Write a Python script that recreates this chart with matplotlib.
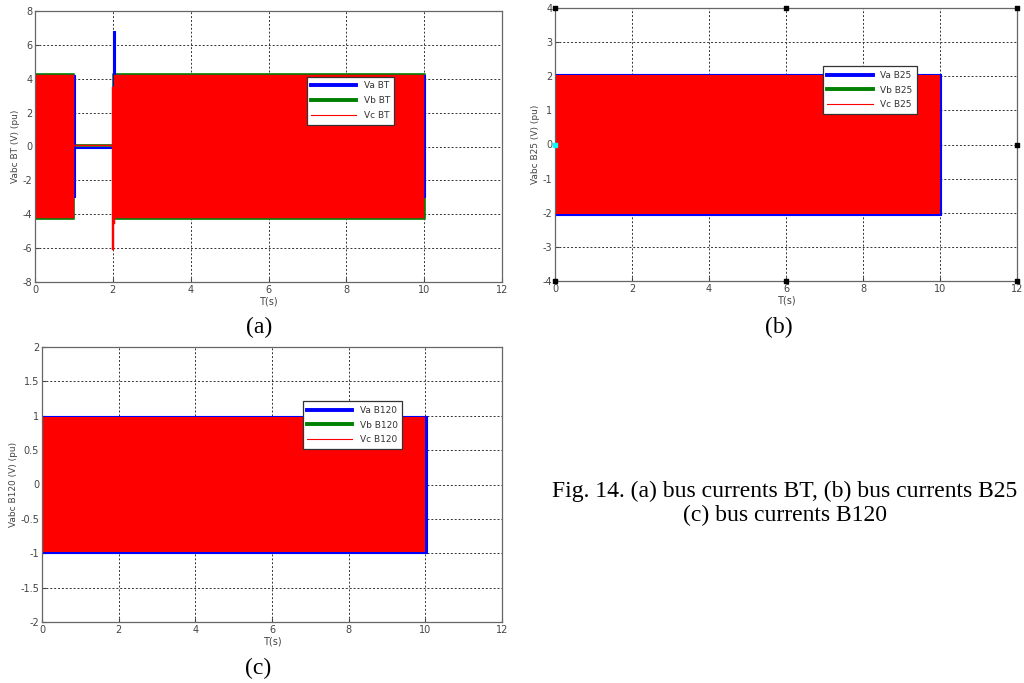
import matplotlib
matplotlib.use('Agg')
import matplotlib.pyplot as plt
from matplotlib.lines import Line2D

# envelopes of the three phases (time s, upper pu, lower pu)
# panel (a) bus BT
t_va_bt = [0, 1.0, 1.0, 1.02, 1.02, 2.0, 2.0, 2.06, 2.06, 10.03]
up_va_bt = [4.2, 4.2, 4.2, 4.2, -0.03, -0.03, 6.8, 6.8, 4.2, 4.2]
lo_va_bt = [-3.0, -3.0, -3.0, -3.0, -0.08, -0.08, -0.5, -0.5, -3.0, -3.0]
t_vb_bt = [0, 1.01, 1.01, 2.0, 2.0, 10.01]
up_vb_bt = [4.3, 4.3, 0.07, 0.07, 4.3, 4.3]
lo_vb_bt = [-4.3, -4.3, 0.02, 0.02, -4.3, -4.3]
t_vc_bt = [0, 1.0, 1.0, 1.99, 1.99, 2.03, 2.03, 2.06, 2.06, 10.0]
up_vc_bt = [4.25, 4.25, 0.06, 0.06, 3.5, 3.5, 4.25, 4.25, 4.25, 4.25]
lo_vc_bt = [-4.25, -4.25, 0.03, 0.03, -6.1, -6.1, -4.6, -4.6, -4.25, -4.25]

# panel (b) bus B25
t_va_b25 = [0, 10.03]
amp_va_b25 = 2.06
t_vc_b25 = [0, 10.0]
amp_vc_b25 = 2.04

# panel (c) bus B120
t_va_b120 = [0, 10.05]
amp_va_b120 = 0.99
t_vc_b120 = [0, 10.0]
amp_vc_b120 = 0.975

gray = '#444444'


def prepara_eixo(ax, ylim, yticks, ylabel):
    ax.set_xlim(0, 12)
    ax.set_ylim(ylim)
    ax.set_xticks([0, 2, 4, 6, 8, 10, 12])
    ax.set_yticks(yticks)
    ax.set_yticklabels([('%g' % v) for v in yticks])
    ax.grid(True, color='#333333', linestyle=(0, (2, 2)), linewidth=0.7)
    ax.set_axisbelow(True)
    ax.tick_params(direction='in', length=3, labelsize=7, colors=gray, pad=2)
    for s in ax.spines.values():
        s.set_color('#666666')
        s.set_linewidth(0.9)
        s.set_zorder(8)
    ax.set_xlabel('T(s)', fontsize=7, color=gray, labelpad=1)
    ax.set_ylabel(ylabel, fontsize=6.5, color=gray, labelpad=2)


def legenda(ax, nomes, anchor):
    handles = [Line2D([], [], color='blue', lw=2.8),
               Line2D([], [], color='green', lw=2.8),
               Line2D([], [], color='red', lw=0.8)]
    leg = ax.legend(handles, nomes, loc='upper left', bbox_to_anchor=anchor,
                    fontsize=6.5, fancybox=False, framealpha=1, edgecolor='#333333',
                    handlelength=5, borderpad=0.5, labelspacing=0.65, handletextpad=0.8,
                    borderaxespad=0)
    leg.get_frame().set_linewidth(0.9)
    for txt in leg.get_texts():
        txt.set_color('#333333')
    leg.set_zorder(10)


fig = plt.figure(figsize=(10.24, 6.83), dpi=100)
H = 683.0
W = 1024.0

# (a)
ax1 = fig.add_axes([35 / W, (H - 282) / H, 467 / W, 271 / H])
ax1.fill_between(t_vb_bt, lo_vb_bt, up_vb_bt, color='green', lw=1.2, zorder=3)
ax1.fill_between(t_va_bt, lo_va_bt, up_va_bt, color='blue', lw=0.8, zorder=4)
ax1.fill_between(t_vc_bt, lo_vc_bt, up_vc_bt, color='red', lw=0.3, zorder=5)
prepara_eixo(ax1, (-8, 8), [-8, -6, -4, -2, 0, 2, 4, 6, 8], 'Vabc BT (V) (pu)')
legenda(ax1, ['Va BT', 'Vb BT', 'Vc BT'], (0.582, 0.757))

# (b)
ax2 = fig.add_axes([555 / W, (H - 281) / H, 462 / W, 273 / H])
ax2.fill_between(t_va_b25, [-amp_va_b25] * 2, [amp_va_b25] * 2, color='blue', lw=0.8, zorder=3)
ax2.fill_between(t_vc_b25, [-amp_vc_b25] * 2, [amp_vc_b25] * 2, color='red', lw=0, zorder=5)
prepara_eixo(ax2, (-4, 4), [-4, -3, -2, -1, 0, 1, 2, 3, 4], 'Vabc B25 (V) (pu)')
# pontos de selecao que aparecem na figura original
marc_x = [0, 6, 12, 0, 6, 12, 12]
marc_y = [4, 4, 4, -4, -4, -4, 0]
ax2.scatter(marc_x, marc_y, marker='s', s=10, color='black', zorder=12, clip_on=False)
ax2.scatter([0], [0], marker='s', s=10, color='cyan', zorder=12, clip_on=False)
legenda(ax2, ['Va B25', 'Vb B25', 'Vc B25'], (0.580, 0.787))

# (c)
ax3 = fig.add_axes([42 / W, (H - 622) / H, 460 / W, 275 / H])
ax3.fill_between(t_va_b120, [-amp_va_b120] * 2, [amp_va_b120] * 2, color='blue', lw=0.8, zorder=3)
ax3.fill_between(t_vc_b120, [-amp_vc_b120] * 2, [amp_vc_b120] * 2, color='red', lw=0, zorder=5)
prepara_eixo(ax3, (-2, 2), [-2, -1.5, -1, -0.5, 0, 0.5, 1, 1.5, 2], 'Vabc B120 (V) (pu)')
legenda(ax3, ['Va B120', 'Vb B120', 'Vc B120'], (0.567, 0.803))

serif = 'Liberation Serif'
fig.text(259 / W, 1 - 327 / H, '(a)', fontsize=17, family=serif, ha='center', va='center')
fig.text(779 / W, 1 - 327 / H, '(b)', fontsize=17, family=serif, ha='center', va='center')
fig.text(258 / W, 1 - 668 / H, '(c)', fontsize=17, family=serif, ha='center', va='center')
fig.text(785 / W, 1 - 491 / H, 'Fig. 14. (a) bus currents BT, (b) bus currents B25',
         fontsize=17, family=serif, ha='center', va='center')
fig.text(785 / W, 1 - 515 / H, '(c) bus currents B120',
         fontsize=17, family=serif, ha='center', va='center')

fig.savefig('out.png', dpi=100)
